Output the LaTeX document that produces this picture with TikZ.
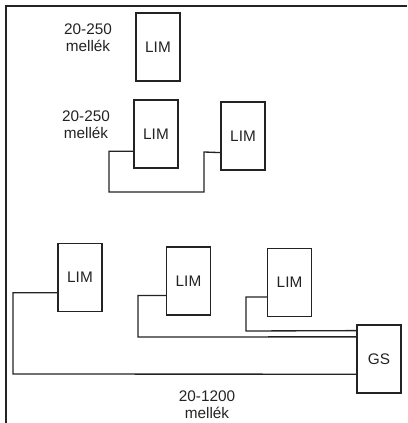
\documentclass[tikz,border=0pt]{standalone}
\usepackage{fontspec}
\setmainfont{Liberation Sans}
\usetikzlibrary{calc}
\definecolor{inkgray}{RGB}{35,35,35}

\begin{document}
\begin{tikzpicture}[
    x=0.75pt,y=-0.75pt,
    every node/.style={font=\fontsize{11.5}{13}\selectfont,text=inkgray},
    unit/.style={rectangle,draw=inkgray,line width=0.9pt,minimum width=33pt,
      minimum height=51pt,inner sep=0pt},
    lbl/.style={align=center,inner sep=0pt},
    wire/.style={draw=inkgray,line width=1pt},
    frame/.style={draw=inkgray,line width=1.2pt}
  ]
    \useasboundingbox (0,0) rectangle (407,423);
    \draw[frame] (6,423) -- (6,6) -- (407,6);
    \node[unit] (lim1) at (158,47) {LIM};
    \node[lbl] (tag1) at (88,38) {20-250\\mellék};
    \node[unit] (lim2) at (156,134) {LIM};
    \node[unit] (lim3) at (243,136) {LIM};
    \node[lbl] (tag2) at (86,125) {20-250\\mellék};
    \node[unit] (lim4) at (80,277.5) {LIM};
    \node[unit] (lim5) at (188.5,281) {LIM};
    \node[unit] (lim6) at (289.5,282.5) {LIM};
    \node[unit] (gs) at (379,359) {GS};
    \node[lbl] (tag3) at (207,405) {20-1200\\mellék};
    \draw[wire] ($(lim2.south west)!.25!(lim2.north west)$) -| (109,192) -| (204,152)
      -- ($(lim3.south west)!.26!(lim3.north west)$);
    \draw[wire] ($(lim4.south west)!.28!(lim4.north west)$) -| (13,374)
      -- ($(gs.south west)!.28!(gs.north west)$);
    \draw[wire] ($(lim5.south west)!.29!(lim5.north west)$) -| (138,337)
      -- ($(gs.south west)!.82!(gs.north west)$);
    \draw[wire] ($(lim6.south west)!.29!(lim6.north west)$) -| (246,331)
      -- ($(gs.south west)!.91!(gs.north west)$);
  \end{tikzpicture}
\end{document}
